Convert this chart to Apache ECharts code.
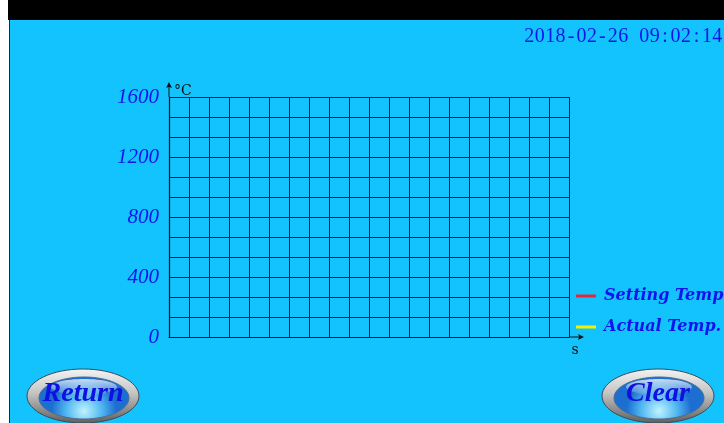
<!DOCTYPE html>
<html>
<head>
<meta charset="utf-8">
<script src="https://cdn.jsdelivr.net/npm/echarts@6/dist/echarts.min.js"></script>
<style>
html,body{margin:0;padding:0;background:#fff;}
#c{width:724px;height:423px;}
</style>
</head>
<body>
<div id="c"></div>
<script>
// ---- data ----
const seriesNames = ['Setting Temp.', 'Actual Temp.'];
const settingTemp = [];
const actualTemp = [];
const yMin = 0, yMax = 1600, yStep = 400, yMinorSplit = 3;
const xMin = 0, xMax = 20, xStep = 1;
const yUnit = '°C';
const xUnit = 's';
const dateText = '2018-02-26 09:02:14';
const buttonLabels = ['Return', 'Clear'];

// ---- styles ----
const BG = '#13c3fd';
const BLUE = '#1212ee';
const GRID = '#04222e';

const chart = echarts.init(document.getElementById('c'), null, {renderer: 'canvas'});

const arrowUp = 'path://M3,0 L6,6 L3.5,5 L3.5,15 L2.5,15 L2.5,5 L0,6 Z';

function button(cx, cy, label) {
  return {
    type: 'group',
    silent: true,
    children: [
      {type: 'ellipse', shape: {cx: cx, cy: cy, rx: 56, ry: 27},
        style: {fill: {type: 'linear', x: 0, y: 0, x2: 0, y2: 1, colorStops: [
          {offset: 0, color: '#f4f4f4'}, {offset: 0.45, color: '#c4c4c4'}, {offset: 1, color: '#5e5e5e'}]},
          stroke: '#3c4a55', lineWidth: 1}},
      {type: 'ellipse', shape: {cx: cx + 1, cy: cy + 2, rx: 45, ry: 21},
        style: {fill: {type: 'radial', x: 0.5, y: 0.8, r: 0.75, colorStops: [
          {offset: 0, color: '#bff3ff'}, {offset: 0.55, color: '#52b8f2'}, {offset: 1, color: '#1c6fd0'}]},
          stroke: '#4a6f90', lineWidth: 1}},
      {type: 'ellipse', shape: {cx: cx + 1, cy: cy - 9, rx: 33, ry: 8},
        style: {fill: {type: 'linear', x: 0, y: 0, x2: 0, y2: 1, colorStops: [
          {offset: 0, color: 'rgba(255,255,255,0.75)'}, {offset: 1, color: 'rgba(255,255,255,0.1)'}]}}},
      {type: 'text', x: cx, y: cy - 2,
        style: {text: label, fontFamily: 'Liberation Serif', fontStyle: 'italic', fontWeight: 'bold',
          fontSize: 28, fill: '#1010e0', align: 'center', verticalAlign: 'middle'}}
    ]
  };
}

const richDate = dateText.split('').map(ch => '{c|' + ch + '}').join('');

const axisFont = {fontFamily: 'Liberation Serif', fontStyle: 'italic', fontSize: 21, color: BLUE};

chart.setOption({
  backgroundColor: BG,
  animation: false,
  grid: {left: 169, top: 97, width: 400, height: 240, containLabel: false},
  legend: {
    orient: 'vertical', left: 576, top: 285, padding: 0,
    data: seriesNames,
    icon: 'rect', itemWidth: 20, itemHeight: 3, itemGap: 9,
    textStyle: {fontFamily: 'DejaVu Serif', fontStyle: 'italic', fontWeight: 'bold',
      fontSize: 16, color: BLUE, lineHeight: 20, padding: [2, 0, 0, 3]},
    selectedMode: false
  },
  xAxis: {
    type: 'value', min: xMin, max: xMax, interval: xStep,
    name: xUnit, nameLocation: 'end', nameGap: 6,
    nameTextStyle: {fontFamily: 'DejaVu Serif', fontSize: 14, color: '#111', align: 'center',
      verticalAlign: 'top', padding: [6, 0, 0, 0]},
    axisLine: {show: true, lineStyle: {color: '#06141a', width: 1.2},
      symbol: ['none', arrowUp], symbolSize: [6, 15], symbolOffset: [0, 7.5]},
    axisTick: {show: false},
    axisLabel: {show: false},
    splitLine: {show: true, lineStyle: {color: GRID, width: 1}}
  },
  yAxis: {
    type: 'value', min: yMin, max: yMax, interval: yStep,
    name: yUnit, nameLocation: 'end', nameGap: 0,
    nameTextStyle: {fontFamily: 'DejaVu Serif', fontSize: 14, color: '#111', align: 'left',
      verticalAlign: 'bottom', padding: [0, 0, -1, 5]},
    axisLine: {show: true, lineStyle: {color: '#06141a', width: 1.2},
      symbol: ['none', arrowUp], symbolSize: [6, 15], symbolOffset: [0, 7.5]},
    axisTick: {show: false},
    axisLabel: Object.assign({margin: 10, formatter: v => String(v)}, axisFont),
    splitLine: {show: true, lineStyle: {color: GRID, width: 1}},
    minorTick: {show: false, splitNumber: yMinorSplit},
    minorSplitLine: {show: true, lineStyle: {color: GRID, width: 1}}
  },
  series: [
    {name: seriesNames[0], type: 'line', data: settingTemp, showSymbol: false,
      itemStyle: {color: '#e3283c'}, lineStyle: {color: '#e3283c', width: 2}},
    {name: seriesNames[1], type: 'line', data: actualTemp, showSymbol: false,
      itemStyle: {color: '#f6f000'}, lineStyle: {color: '#f6f000', width: 2}}
  ],
  graphic: [
    {type: 'rect', silent: true, shape: {x: 0, y: 0, width: 9, height: 423}, style: {fill: '#ffffff'}},
    {type: 'rect', silent: true, shape: {x: 9, y: 20, width: 1, height: 403}, style: {fill: '#1b2a33'}},
    {type: 'rect', silent: true, shape: {x: 8, y: 0, width: 716, height: 20}, style: {fill: '#000000'}},
    {type: 'text', silent: true, x: 524, y: 37,
      style: {text: richDate, fill: BLUE, verticalAlign: 'middle', align: 'left',
        fontFamily: 'Liberation Serif', fontSize: 20,
        rich: {c: {width: 10.45, align: 'center', fontFamily: 'Liberation Serif', fontSize: 20, fill: BLUE}}}},
    button(83, 396, buttonLabels[0]),
    button(658, 396, buttonLabels[1])
  ]
});
</script>
</body>
</html>
